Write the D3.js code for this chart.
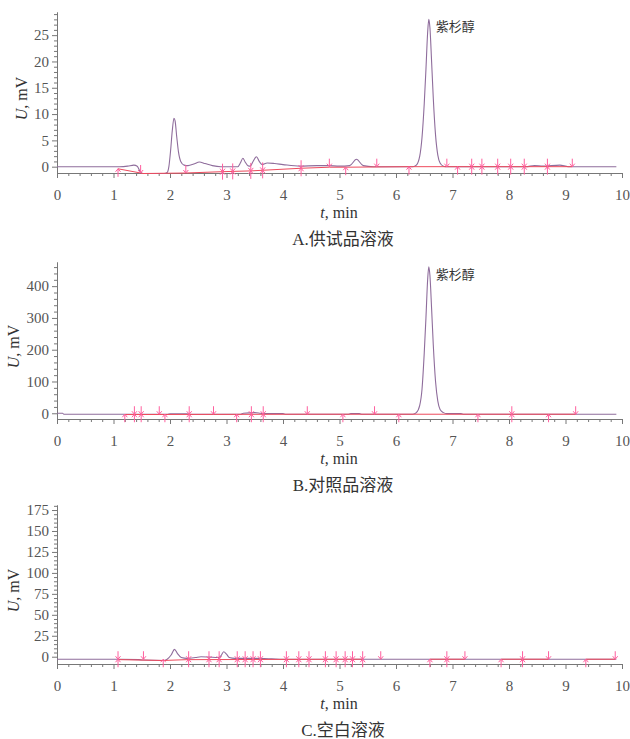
<!DOCTYPE html>
<html>
<head>
<meta charset="utf-8">
<script src="https://cdn.jsdelivr.net/npm/d3@7"></script>
<style>
  body { margin: 0; background: #fff; }
  svg { display: block; }
</style>
</head>
<body>
<svg id="chart" width="630" height="739"></svg>
<script>
/* Data: chromatograms, [t(min), U(mV)] */
var xTicks = [0, 1, 2, 3, 4, 5, 6, 7, 8, 9, 10];

var sigA = [[0,0],[1.1,0],[1.25,0.1],[1.36,0.3],[1.42,0.1],[1.47,-0.9],[1.52,-1.3],[1.9,-1.3],[1.95,-1.1],
  [1.98,0],[2.01,3],[2.04,6.8],[2.07,9.2],[2.09,8.7],[2.12,5.6],[2.15,2.8],[2.19,1.0],[2.25,0.3],[2.32,0.2],
  [2.42,0.5],[2.52,0.9],[2.62,0.6],[2.75,0.2],[2.9,0],[3.2,0],[3.25,0.8],[3.29,1.6],[3.33,0.9],[3.38,0.2],
  [3.42,0.1],[3.47,1.0],[3.53,1.9],[3.58,1.0],[3.63,0.4],[3.72,0.7],[3.85,0.6],[4.0,0.4],[4.3,0.1],[4.6,0.2],
  [4.8,0.2],[5.0,0.1],[5.18,0.2],[5.3,1.4],[5.42,0.2],[5.6,0],[6.3,0],[6.36,0.3],[6.42,2],[6.46,5.5],[6.5,12],
  [6.53,18.5],[6.56,25.5],[6.58,28],[6.6,26.5],[6.63,20],[6.66,13],[6.7,6],[6.74,2.2],[6.78,0.7],[6.84,0.1],
  [6.9,0],[8.3,0],[8.45,0.2],[8.6,0.1],[8.9,0.3],[9.05,0],[9.9,0]];
var baseA = [[[1.08,-0.4],[1.48,-1.2],[1.52,-1.3],[2.28,-1.2],[2.93,-0.95],[3.43,-0.8],[4.32,-0.3],[4.82,-0.1],
  [5.1,-0.1],[6.23,0],[7.09,0],[9.12,0]]];
var marksA = [[1.08,-0.4,"up"],[1.48,-1.2,"down"],[2.28,-1.2,"down"],[2.93,-0.95,"both"],[3.11,-0.9,"both"],
  [3.43,-0.8,"both"],[3.64,-0.7,"both"],[4.32,-0.3,"both"],[4.82,0,"down"],[5.11,-0.1,"up"],[5.66,0,"down"],
  [6.23,0,"up"],[6.9,0,"down"],[7.09,0,"up"],[7.34,0,"both"],[7.52,0,"both"],[7.8,0,"both"],[8.03,0,"both"],
  [8.27,0,"both"],[8.68,0,"both"],[9.12,0,"down"]];
var yTicksA = [0, 5, 10, 15, 20, 25];

var sigB = [[0,0],[0.1,0],[0.12,-3],[1.95,-3],[2.0,-1.5],[2.3,-1.5],[2.35,-3],[3.25,-3],[3.3,0],[3.5,2],[3.6,0],
  [3.65,-1],[4.0,-1],[4.05,-3],[5.15,-3],[5.2,-1],[5.35,-1],[5.4,-3],[6.3,-3],[6.36,2],[6.42,25],[6.46,75],
  [6.5,190],[6.53,300],[6.56,420],[6.58,461],[6.6,435],[6.63,330],[6.66,215],[6.7,100],[6.74,38],[6.78,12],
  [6.84,2],[6.9,-1],[7.15,-1],[7.2,-3],[9.9,-3]];
var baseB = [[[1.2,-4],[4.43,-3],[9.18,-3]]];
var marksB = [[1.2,-3,"up"],[1.37,-3,"both"],[1.49,-3,"both"],[1.81,-3,"down"],[1.91,-3,"up"],[2.34,-3,"both"],
  [2.77,-3,"down"],[3.18,-3,"up"],[3.44,-3,"both"],[3.65,-3,"both"],[4.43,-3,"down"],[5.06,-3,"up"],
  [5.62,-3,"down"],[6.05,-3,"up"],[7.45,-3,"up"],[8.05,-3,"both"],[8.7,-3,"up"],[9.18,-3,"down"]];
var yTicksB = [0, 100, 200, 300, 400];

var sigC = [[0,-3],[1.1,-3],[1.45,-3.5],[1.52,-4],[1.88,-4.5],[1.95,-3],[2.02,2],[2.08,8.8],[2.13,4],[2.2,-1],
  [2.3,-2],[2.45,-1],[2.55,0],[2.7,-0.5],[2.85,-1],[2.9,1],[2.95,6],[3.0,3],[3.05,-1],[3.15,-2],[3.5,-2],
  [3.8,-2.5],[4.0,-3],[9.9,-3]];
var baseC = [[[1.1,-3.5],[1.88,-4.5],[2.3,-3.5],[5.4,-3]], [[6.6,-3],[7.22,-3]], [[7.86,-3],[8.7,-3]], [[9.36,-3],[9.88,-3]]];
var marksC = [[1.08,-3,"both"],[1.53,-3,"down"],[1.88,-3,"up"],[2.33,-3,"both"],[2.69,-3,"both"],[2.87,-3,"both"],
  [3.19,-3,"both"],[3.33,-3,"both"],[3.47,-3,"both"],[3.6,-3,"both"],[4.06,-3,"both"],[4.28,-3,"both"],
  [4.46,-3,"both"],[4.75,-3,"both"],[4.94,-3,"both"],[5.1,-3,"both"],[5.23,-3,"both"],[5.41,-3,"both"],
  [5.73,-3,"down"],[6.6,-3,"up"],[6.9,-3,"both"],[7.22,-3,"down"],[7.86,-3,"up"],[8.24,-3,"both"],
  [8.7,-3,"down"],[9.36,-3,"up"],[9.88,-3,"down"]];
var yTicksC = [0, 25, 50, 75, 100, 125, 150, 175];

/* Panels */
var panels = [
  {sig: sigA, base: baseA, marks: marksA, yTicks: yTicksA, minor: 1, dom: [-1.2, 29.4], top: 12, bottom: 173,
   caption: "A.供试品溶液", peak: [6.58, 28], ylabX: 27},
  {sig: sigB, base: baseB, marks: marksB, yTicks: yTicksB, minor: 20, dom: [-18, 476], top: 262, bottom: 419,
   caption: "B.对照品溶液", peak: [6.58, 461], ylabX: 19},
  {sig: sigC, base: baseC, marks: marksC, yTicks: yTicksC, minor: 5, dom: [-8.7, 181], top: 505, bottom: 664,
   caption: "C.空白溶液", peak: null, ylabX: 19}
];

var serif = "'Liberation Serif', 'DejaVu Serif', 'Times New Roman', serif";
var captionFont = "'Liberation Serif', 'Noto Sans CJK SC', serif";

var svg = d3.select("#chart");
var x = d3.scaleLinear().domain([0, 10]).range([57, 622]);

function styleAxis(sel) {
  sel.attr("font-family", null).attr("font-size", null);
  sel.selectAll("path, line").attr("stroke", "#777");
  sel.selectAll("text")
    .style("font-family", serif).style("font-size", "15px").attr("fill", "#555");
}

panels.forEach(function (p) {
  var y = d3.scaleLinear().domain(p.dom).range([p.bottom, p.top]);
  var g = svg.append("g");

  // x axis, minor ticks every 0.2
  var xMinor = d3.range(0, 50).map(function (i) { return i / 5; }).filter(function (v) { return v % 1 !== 0; });
  g.append("g").attr("transform", "translate(0," + p.bottom + ")")
    .call(d3.axisBottom(x).tickValues(xMinor).tickSize(3).tickFormat("").tickSizeOuter(0))
    .call(styleAxis);
  g.append("g").attr("transform", "translate(0," + p.bottom + ")")
    .call(d3.axisBottom(x).tickValues(xTicks).tickSize(5).tickPadding(11).tickSizeOuter(0).tickFormat(d3.format("d")))
    .call(styleAxis);

  // y axis
  var yMinor = d3.range(0, p.dom[1], p.minor).filter(function (v) { return p.yTicks.indexOf(v) < 0; });
  g.append("g").attr("transform", "translate(57,0)")
    .call(d3.axisLeft(y).tickValues(yMinor).tickSize(3).tickFormat("").tickSizeOuter(0))
    .call(styleAxis);
  g.append("g").attr("transform", "translate(57,0)")
    .call(d3.axisLeft(y).tickValues(p.yTicks).tickSize(5).tickPadding(3).tickSizeOuter(0))
    .call(styleAxis);

  var line = d3.line()
    .x(function (d) { return x(d[0]); })
    .y(function (d) { return y(d[1]); });

  // signal trace
  g.append("path").datum(p.sig)
    .attr("d", line.curve(d3.curveMonotoneX))
    .attr("fill", "none").attr("stroke", "#8f6d9c").attr("stroke-width", 1.1);

  // integration baseline
  line.curve(d3.curveLinear);
  g.selectAll(".base").data(p.base).enter().append("path")
    .attr("d", line)
    .attr("fill", "none").attr("stroke", "#ee4a5c").attr("stroke-width", 1);

  // peak start/end markers
  var mk = g.selectAll(".mk").data(p.marks).enter().append("g")
    .attr("transform", function (d) { return "translate(" + x(d[0]) + "," + y(d[1]) + ")"; })
    .attr("stroke", "#ff5f9e").attr("stroke-width", 1).attr("fill", "none");
  mk.filter(function (d) { return d[2] !== "up"; }).append("path")
    .attr("d", "M0,-8V0M-2.5,-3L0,0L2.5,-3");
  mk.filter(function (d) { return d[2] !== "down"; }).append("path")
    .attr("d", "M0,8V0M-2.5,3L0,0L2.5,3");

  // axis titles
  g.append("text")
    .attr("transform", "translate(" + p.ylabX + "," + ((p.top + p.bottom) / 2 + 6) + ") rotate(-90)")
    .attr("text-anchor", "middle").style("font-family", serif).style("font-size", "16px").attr("fill", "#333")
    .html('<tspan font-style="italic">U</tspan>, mV');
  g.append("text")
    .attr("x", 339).attr("y", p.bottom + 45)
    .attr("text-anchor", "middle").style("font-family", serif).style("font-size", "16px").attr("fill", "#333")
    .html('<tspan font-style="italic">t</tspan>, min');
  g.append("text")
    .attr("x", 343).attr("y", p.bottom + 72)
    .attr("text-anchor", "middle").style("font-family", captionFont).style("font-size", "17px").attr("fill", "#333")
    .text(p.caption);

  if (p.peak) {
    g.append("text")
      .attr("x", x(p.peak[0]) + 7).attr("y", y(p.peak[1]) + 12)
      .style("font-family", "'Noto Sans CJK SC', sans-serif").style("font-size", "13px")
      .attr("fill", "#333")
      .text("紫杉醇");
  }
});
</script>
</body>
</html>
